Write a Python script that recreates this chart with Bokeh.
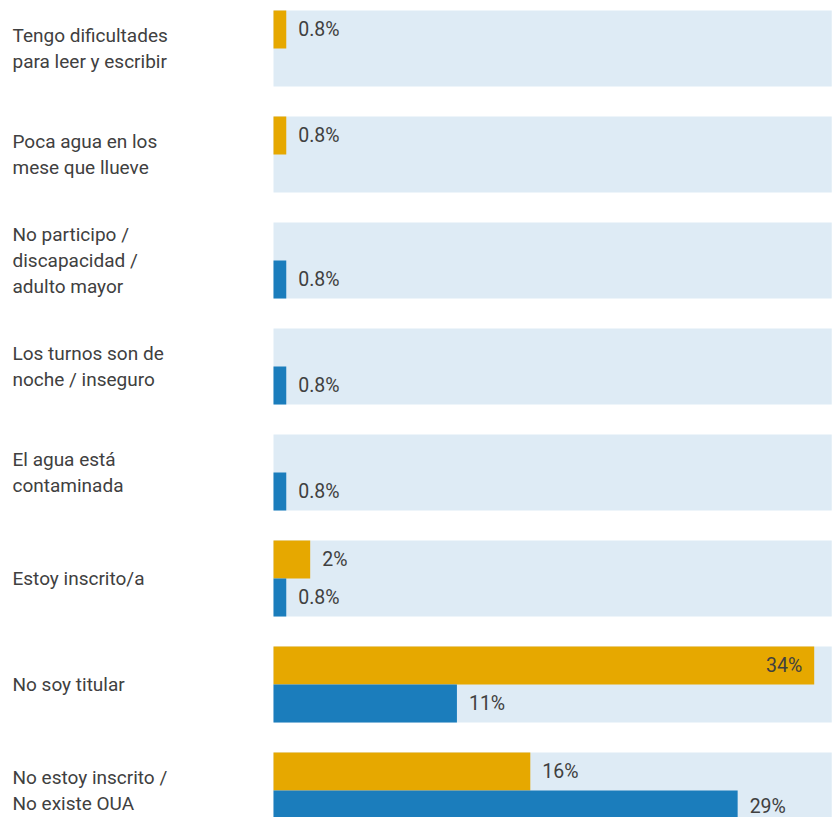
from bokeh.plotting import figure
from bokeh.models import Range1d, ColumnDataSource
from bokeh.core.properties import value
from bokeh.embed import file_html
from bokeh.resources import INLINE

categories = [
    "Tengo dificultades\npara leer y escribir",
    "Poca agua en los\nmese que llueve",
    "No participo /\ndiscapacidad /\nadulto mayor",
    "Los turnos son de\nnoche / inseguro",
    "El agua está\ncontaminada",
    "Estoy inscrito/a",
    "No soy titular",
    "No estoy inscrito /\nNo existe OUA",
]
orange_values = [0.8, 0.8, None, None, None, 2.3, 33.9, 16.1]
orange_labels = ["0.8%", "0.8%", None, None, None, "2%", "34%", "16%"]
blue_values = [None, None, 0.8, 0.8, 0.8, 0.8, 11.5, 29.1]
blue_labels = [None, None, "0.8%", "0.8%", "0.8%", "0.8%", "11%", "29%"]
band_max = 35

ORANGE = "#E6A800"
BLUE = "#1B7DBC"
BAND = "#DEEBF5"
TEXT = "#404040"
FONT = "Roboto"

W, H = 835, 817
x_start, x_end = -17.116, 35.235
y_bottom, y_top = 7.2547, -0.4528
band_h = 0.717
bar_h = band_h / 2

p = figure(width=W, height=H, output_backend="svg", toolbar_location=None,
           x_range=Range1d(x_start, x_end), y_range=Range1d(y_bottom, y_top),
           min_border=0)
p.axis.visible = False
p.grid.visible = False
p.outline_line_color = None
p.background_fill_color = "white"

idx = list(range(len(categories)))

p.hbar(y=idx, left=0, right=band_max, height=band_h, fill_color=BAND, line_color=None)

def keep_inside(y):
    # pixel shift (upwards) so that a label near the bottom edge stays visible
    px = (y - y_top) / (y_bottom - y_top) * H
    return min(0, (H - 11) - px) * -1

def series(vals, labels, offset, color):
    ys = [i + offset for i, v in zip(idx, vals) if v is not None]
    vs = [v for v in vals if v is not None]
    ls = [l for l in labels if l is not None]
    p.hbar(y=ys, left=0, right=vs, height=bar_h, fill_color=color, line_color=None)
    out = dict(x=[], y=[], t=[], dy=[])
    inn = dict(x=[], y=[], t=[], dy=[])
    for y, v, l in zip(ys, vs, ls):
        d = inn if v > 30 else out
        d["x"].append(v); d["y"].append(y); d["t"].append(l)
        d["dy"].append(-keep_inside(y))
    p.text(x="x", y="y", text="t", source=ColumnDataSource(out), x_offset=12,
           y_offset="dy", text_align="left", text_baseline="middle", text_color=TEXT,
           text_font=value(FONT), text_font_size="19.5px")
    p.text(x="x", y="y", text="t", source=ColumnDataSource(inn), x_offset=-12,
           y_offset="dy", text_align="right", text_baseline="middle", text_color=TEXT,
           text_font=value(FONT), text_font_size="19.5px")

series(orange_values, orange_labels, -bar_h / 2, ORANGE)
series(blue_values, blue_labels, bar_h / 2, BLUE)

p.text(x=[x_start] * len(idx), y=idx, text=categories, x_offset=12,
       text_align="left", text_baseline="middle", text_color=TEXT,
       text_font=value(FONT), text_font_size="19px", text_line_height=1.12)

open("out.html", "w").write(file_html(p, INLINE))
